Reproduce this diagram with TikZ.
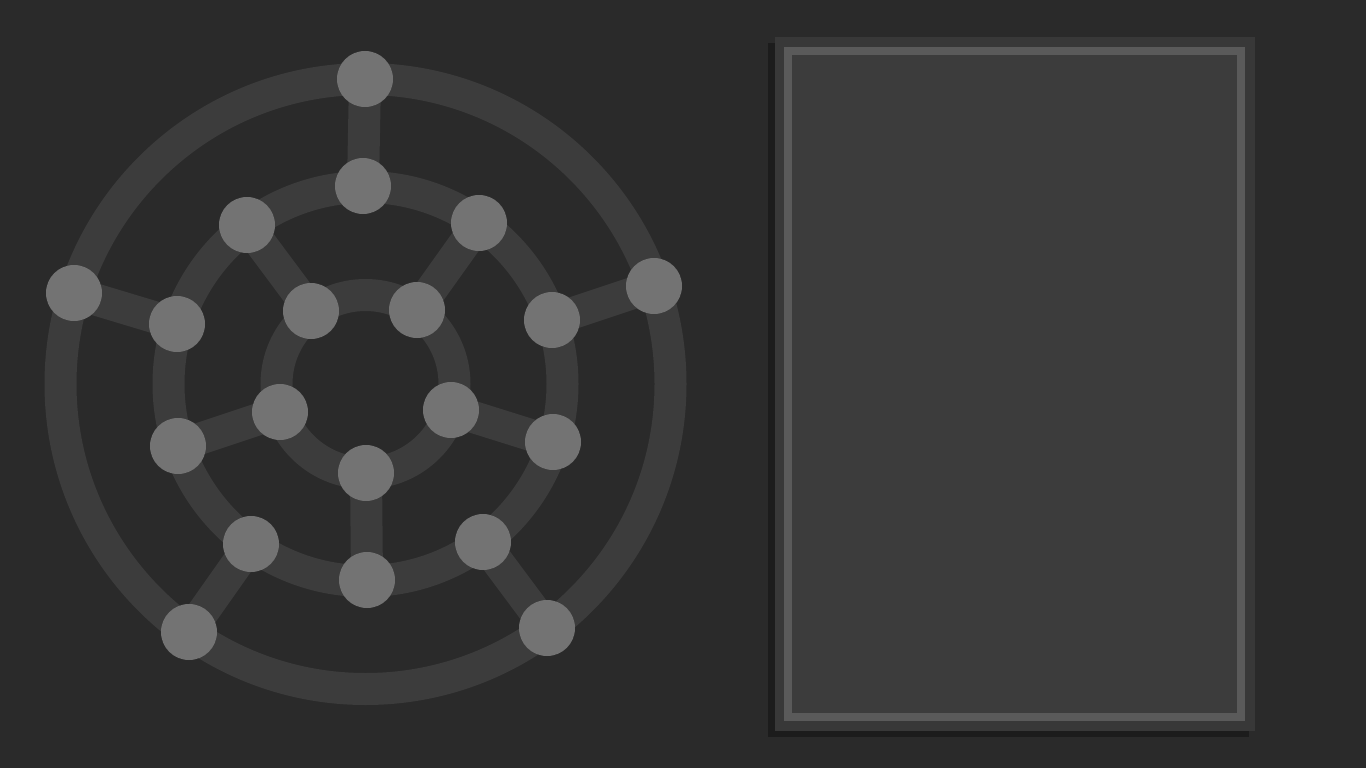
\documentclass[tikz,border=0pt]{standalone}
\usepackage{xcolor}
\definecolor{bg}{HTML}{2A2A2A}
\definecolor{edgec}{HTML}{3C3C3C}
\definecolor{nodec}{HTML}{737373}
\definecolor{shadowc}{HTML}{1C1C1C}
\definecolor{framec}{HTML}{383838}
\definecolor{borderc}{HTML}{5A5A5A}
\definecolor{panelc}{HTML}{3C3C3C}
\begin{document}
\begin{tikzpicture}[x=1pt,y=-1pt,
  vtx/.style={circle,fill=nodec,draw=none,minimum size=56pt,inner sep=0pt},
  ring/.style={draw=edgec,line width=32pt},
  spoke/.style={draw=edgec,line width=32pt}]
\fill[bg] (0,0) rectangle (1366,768);
\useasboundingbox (0,0) rectangle (1366,768);
% panel
\fill[shadowc] (768,43) rectangle (1249,737);
\fill[framec] (775,37) rectangle (1255,731);
\draw[borderc,line width=8pt,fill=panelc] (788,51) rectangle (1241,717);
% graph
\coordinate (c) at (365.5,384);
\path[ring] (c) circle[radius=305];
\path[ring] (c) circle[radius=197];
\path[ring] (c) circle[radius=89];
% outer nodes
\coordinate (o1) at (365,79);
\coordinate (o2) at (654,286);
\coordinate (o3) at (547,628);
\coordinate (o4) at (189,632);
\coordinate (o5) at (74,293);
% middle nodes
\coordinate (m1) at (363,186);
\coordinate (m2) at (479,223);
\coordinate (m3) at (552,320);
\coordinate (m4) at (553,442);
\coordinate (m5) at (483,542);
\coordinate (m6) at (367,580);
\coordinate (m7) at (251,544);
\coordinate (m8) at (178,446);
\coordinate (m9) at (177,324);
\coordinate (m10) at (247,225);
% inner nodes
\coordinate (i1) at (311,311);
\coordinate (i2) at (417,310);
\coordinate (i3) at (451,410);
\coordinate (i4) at (366,473);
\coordinate (i5) at (280,412);
% spokes
\foreach \a/\b in {o1/m1,o2/m3,o3/m5,o4/m7,o5/m9,m10/i1,m2/i2,m4/i3,m6/i4,m8/i5}
  \path[spoke] (\a) -- (\b);
% nodes
\foreach \n in {o1,o2,o3,o4,o5,m1,m2,m3,m4,m5,m6,m7,m8,m9,m10,i1,i2,i3,i4,i5}
  \node[vtx] (v\n) at (\n) {};
\end{tikzpicture}
\end{document}
